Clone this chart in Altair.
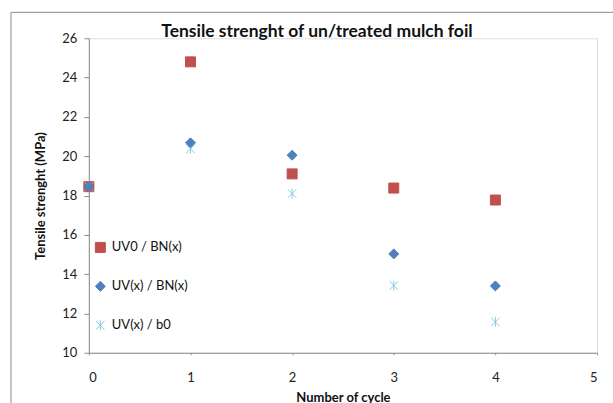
import altair as alt
import pandas as pd

cycles = [0, 1, 2, 3, 4]
series_names = ["UV0 / BN(x)", "UV(x) / BN(x)", "UV(x) / b0"]
uv0_bn = [18.45, 24.8, 19.1, 18.38, 17.77]
uvx_bn = [18.45, 20.68, 20.05, 15.03, 13.4]
uvx_b0 = [18.45, 20.38, 18.1, 13.42, 11.57]

colors = ["#C0504D", "#4F81BD", "#86CBE3"]
star = "M0,-1V1M-0.85,-0.85L0.85,0.85M-0.85,0.85L0.85,-0.85"
shapes = ["square", "diamond", star]

rows = []
# draw order: red, cyan, blue (blue on top)
for name, vals in [(series_names[0], uv0_bn), (series_names[2], uvx_b0), (series_names[1], uvx_bn)]:
    for c, v in zip(cycles, vals):
        rows.append({"cycle": c, "value": v, "series": name})
df = pd.DataFrame(rows)

FONT = "Lato"

legend = alt.Legend(
    title=None, orient="none", legendX=5, legendY=203,
    labelFontSize=13, labelFont=FONT, labelColor="#111111",
    rowPadding=24, symbolSize=100, labelOffset=5, symbolStrokeWidth=1,
)

points = alt.Chart(df).mark_point(filled=True, opacity=1, strokeWidth=1, size=100).encode(
    x=alt.X("cycle:Q", scale=alt.Scale(domain=[0, 5], nice=False),
            axis=alt.Axis(title="Number of cycle", values=[0, 1, 2, 3, 4, 5], grid=False,
                          tickSize=2, labelPadding=17, titlePadding=7,
                          labelFontSize=13, labelFont=FONT, labelColor="#222222",
                          titleFontSize=13, titleFont=FONT, titleFontWeight="bold", titleColor="#111111",
                          domainColor="#8c8c8c", tickColor="#8c8c8c")),
    y=alt.Y("value:Q", scale=alt.Scale(domain=[10, 26], nice=False),
            axis=alt.Axis(title="Tensile strenght (MPa)", values=list(range(10, 27, 2)), grid=False,
                          tickSize=5, labelPadding=7, titlePadding=14,
                          labelFontSize=13, labelFont=FONT, labelColor="#222222",
                          titleFontSize=13, titleFont=FONT, titleFontWeight="bold", titleColor="#111111",
                          domainColor="#8c8c8c", tickColor="#8c8c8c")),
    fill=alt.Fill("series:N", scale=alt.Scale(domain=series_names, range=colors), legend=legend),
    stroke=alt.Stroke("series:N", scale=alt.Scale(domain=series_names, range=colors), legend=legend),
    shape=alt.Shape("series:N", scale=alt.Scale(domain=series_names, range=shapes), legend=legend),
)

one = pd.DataFrame({"a": [0]})
frame = alt.Chart(one).mark_rect(fill="transparent", stroke="#8c8c8c", strokeWidth=1).encode(
    x=alt.value(-78), x2=alt.value(700), y=alt.value(-26), y2=alt.value(500))

chart = alt.layer(frame, points).properties(
    width=509, height=315,
    title=alt.TitleParams("Tensile strenght of un/treated mulch foil", font=FONT, fontSize=17.5,
                          fontWeight="bold", color="#111111", anchor="middle", dx=-26, dy=33),
    padding={"left": 89, "top": 38, "right": 16, "bottom": 50},
    autosize="none",
).configure_view(stroke=None).configure(background="white")

chart.save("out.html", embed_options={"renderer": "svg", "actions": False})
